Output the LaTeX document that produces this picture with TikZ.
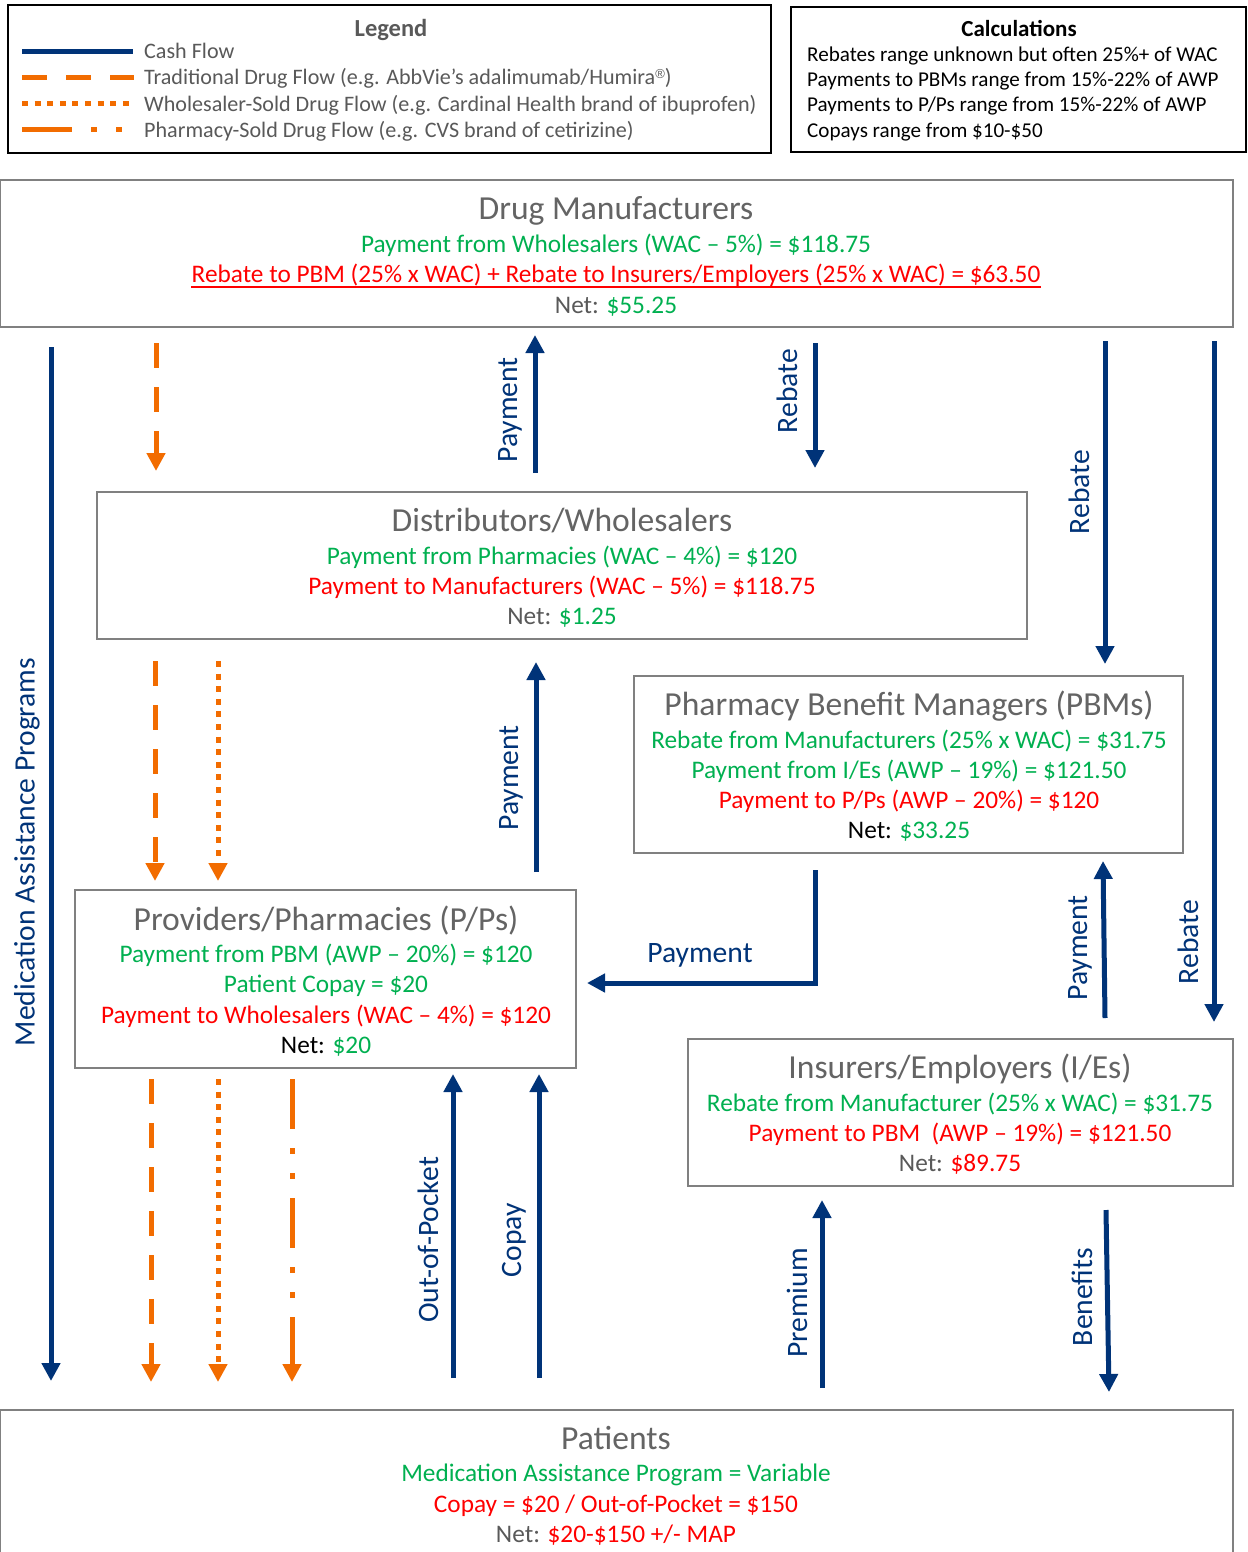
\documentclass[tikz,border=0pt]{standalone}
\usepackage{fontspec}
\setmainfont{Carlito}
\newfontfamily\regfont{Liberation Sans}
\usetikzlibrary{arrows.meta,calc}
\definecolor{cashblue}{RGB}{0,51,120}
\definecolor{drugorange}{RGB}{242,108,0}
\definecolor{gainGreen}{RGB}{0,176,80}
\definecolor{lossRed}{RGB}{255,0,0}
\definecolor{txtgray}{RGB}{89,89,89}
\definecolor{titlegray}{RGB}{100,100,100}
\definecolor{boxgray}{RGB}{128,128,128}
\begin{document}
\begin{tikzpicture}[x=1pt,y=-1pt,
  box/.style={draw=boxgray, line width=1.5pt, inner sep=0pt, outer sep=0pt},
  frame/.style={draw=black, line width=2pt, inner sep=0pt, outer sep=0pt},
  body/.style={font=\fontsize{25.3}{30}\selectfont, anchor=base, inner sep=0pt},
  ttl/.style={font=\fontsize{33.6}{40}\selectfont, text=titlegray, anchor=base, inner sep=0pt},
  lgd/.style={font=\fontsize{22.1}{26}\selectfont, text=txtgray, anchor=base west, inner sep=0pt},
  calc/.style={font=\fontsize{21.1}{26}\selectfont, text=black, anchor=base west, inner sep=0pt},
  lbl/.style={font=\fontsize{29.6}{34}\selectfont, text=cashblue, inner sep=0pt},
  tip/.style={-{Triangle[width=18pt,length=18pt]}},
  cash/.style={draw=cashblue, line width=5pt, tip},
  trad/.style={draw=drugorange, line width=5pt, dash pattern=on 25pt off 19pt, tip},
  whole/.style={draw=drugorange, line width=5pt, dash pattern=on 6pt off 6.6pt, tip},
  pharm/.style={draw=drugorange, line width=5pt, dash pattern=on 50pt off 19pt on 6pt off 19pt on 6pt off 19pt, tip},
  lcash/.style={draw=cashblue, line width=5pt},
  ltrad/.style={draw=drugorange, line width=5pt, dash pattern=on 25pt off 19pt},
  lwhole/.style={draw=drugorange, line width=5pt, dash pattern=on 6pt off 6.6pt},
  lpharm/.style={draw=drugorange, line width=5pt, dash pattern=on 50pt off 19pt on 6pt off 19pt on 6pt off 19pt}
]
\useasboundingbox (0,0) rectangle (1247,1552);
\fill[white] (0,0) rectangle (1247,1552);

% ---------- Legend ----------
\node[frame, minimum width=763pt, minimum height=148pt] (legend) at (389.5,79) {};
\node[font=\fontsize{24.5}{28}\selectfont\bfseries, text=txtgray, anchor=base, inner sep=0pt] (legendT) at (391,37) {Legend};
\coordinate (l1a) at (22,52);  \coordinate (l1b) at (133,52);
\coordinate (l2a) at (22,78);  \coordinate (l2b) at (134,78);
\coordinate (l3a) at (22,104); \coordinate (l3b) at (131,104);
\coordinate (l4a) at (22,130); \coordinate (l4b) at (124,130);
\draw[lcash] (l1a) -- (l1b);
\draw[ltrad] (l2a) -- (l2b);
\draw[lwhole] (l3a) -- (l3b);
\draw[lpharm] (l4a) -- (l4b);
\node[lgd] (lg1) at (144,59) {Cash Flow};
\node[lgd] (lg2) at (144,85) {Traditional Drug Flow (e.g. AbbVie’s adalimumab/Humira\raisebox{6pt}{\regfont\fontsize{13}{13}\selectfont ®})};
\node[lgd] (lg3) at (144,112) {Wholesaler-Sold Drug Flow (e.g. Cardinal Health brand of ibuprofen)};
\node[lgd] (lg4) at (144,138) {Pharmacy-Sold Drug Flow (e.g. CVS brand of cetirizine)};

% ---------- Calculations ----------
\node[frame, minimum width=455pt, minimum height=145pt] (calcbox) at (1018.5,79.5) {};
\node[font=\fontsize{23}{27}\selectfont\bfseries, text=black, anchor=base, inner sep=0pt] (calcT) at (1019,37) {Calculations};
\node[calc] (c1) at (807,62) {Rebates range unknown but often 25\%+ of WAC};
\node[calc] (c2) at (807,87) {Payments to PBMs range from 15\%-22\% of AWP};
\node[calc] (c3) at (807,112) {Payments to P/Ps range from 15\%-22\% of AWP};
\node[calc] (c4) at (807,138) {Copays range from \$10-\$50};

% ---------- Boxes ----------
\node[box, minimum width=1233pt, minimum height=147pt] (dm) at (616.5,253.5) {};
\node[box, minimum width=930pt, minimum height=147pt] (dw) at (562,565.5) {};
\node[box, minimum width=549pt, minimum height=177pt] (pbm) at (908.5,764.5) {};
\node[box, minimum width=501pt, minimum height=178pt] (pp) at (325.5,979) {};
\node[box, minimum width=545pt, minimum height=147pt] (ie) at (960.5,1112.5) {};
\node[box, minimum width=1233pt, minimum height=200pt] (pat) at (616.5,1510) {};

% Drug Manufacturers
\node[ttl] (dmT) at (616,219) {Drug Manufacturers};
\node[body, text=gainGreen] (dm1) at (616,252) {Payment from Wholesalers (WAC – 5\%) = \$118.75};
\node[body, text=lossRed] (dm2) at (616,282) {Rebate to PBM (25\% x WAC) + Rebate to Insurers/Employers (25\% x WAC) = \$63.50};
\draw[lossRed, line width=1.8pt] ($(dm2.base west)+(0,5)$) -- ($(dm2.base east)+(0,5)$);
\node[body] (dm3) at (616,313) {\textcolor{txtgray}{Net:} \textcolor{gainGreen}{\$55.25}};

% Distributors
\node[ttl] (dwT) at (562,531) {Distributors/Wholesalers};
\node[body, text=gainGreen] (dw1) at (562,564) {Payment from Pharmacies (WAC – 4\%) = \$120};
\node[body, text=lossRed] (dw2) at (562,594) {Payment to Manufacturers (WAC – 5\%) = \$118.75};
\node[body] (dw3) at (562,624) {\textcolor{txtgray}{Net:} \textcolor{gainGreen}{\$1.25}};

% PBMs
\node[ttl] (pbmT) at (909,715) {Pharmacy Benefit Managers (PBMs)};
\node[body, text=gainGreen] (pbm1) at (909,748) {Rebate from Manufacturers (25\% x WAC) = \$31.75};
\node[body, text=gainGreen] (pbm2) at (909,778) {Payment from I/Es (AWP – 19\%) = \$121.50};
\node[body, text=lossRed] (pbm3) at (909,808) {Payment to P/Ps (AWP – 20\%) = \$120};
\node[body] (pbm4) at (909,838) {\textcolor{black}{Net:} \textcolor{gainGreen}{\$33.25}};

% Providers/Pharmacies
\node[ttl] (ppT) at (326,930) {Providers/Pharmacies (P/Ps)};
\node[body, text=gainGreen] (pp1) at (326,962) {Payment from PBM (AWP – 20\%) = \$120};
\node[body, text=gainGreen] (pp2) at (326,992) {Patient Copay = \$20};
\node[body, text=lossRed] (pp3) at (326,1023) {Payment to Wholesalers (WAC – 4\%) = \$120};
\node[body] (pp4) at (326,1053) {\textcolor{black}{Net:} \textcolor{gainGreen}{\$20}};

% Insurers/Employers
\node[ttl] (ieT) at (960,1078) {Insurers/Employers (I/Es)};
\node[body, text=gainGreen] (ie1) at (960,1111) {Rebate from Manufacturer (25\% x WAC) = \$31.75};
\node[body, text=lossRed] (ie2) at (960,1141) {Payment to PBM\ \ (AWP – 19\%) = \$121.50};
\node[body] (ie3) at (960,1171) {\textcolor{txtgray}{Net:} \textcolor{lossRed}{\$89.75}};

% Patients
\node[ttl] (patT) at (616,1449) {Patients};
\node[body, text=gainGreen] (pat1) at (616,1481) {Medication Assistance Program = Variable};
\node[body, text=lossRed] (pat2) at (616,1512) {Copay = \$20 / Out-of-Pocket = \$150};
\node[body] (pat3) at (616,1542) {\textcolor{txtgray}{Net:} \textcolor{lossRed}{\$20-\$150 +/- MAP}};

% ---------- Arrow end points ----------
\coordinate (mapS) at (51,347);   \coordinate (mapE) at (51,1381);
\coordinate (t1S) at (156,343);   \coordinate (t1E) at (156,471);
\coordinate (p1S) at (535,473);   \coordinate (p1E) at (535,335);
\coordinate (r1S) at (815,343);   \coordinate (r1E) at (815,468);
\coordinate (r2S) at (1105,341);  \coordinate (r2E) at (1105,664);
\coordinate (r3S) at (1214,341);  \coordinate (r3E) at (1214,1022);
\coordinate (t2S) at (155,661);   \coordinate (t2E) at (155,881);
\coordinate (w1S) at (218,661);   \coordinate (w1E) at (218,881);
\coordinate (p2S) at (536,872);   \coordinate (p2E) at (536,662);
\coordinate (p3S) at (815,870);   \coordinate (p3M) at (815,983);  \coordinate (p3E) at (587,983);
\coordinate (p4S) at (1105,1018); \coordinate (p4E) at (1103,861);
\coordinate (t3S) at (151,1079);  \coordinate (t3E) at (151,1382);
\coordinate (w2S) at (218,1079);  \coordinate (w2E) at (218,1382);
\coordinate (h1S) at (292,1079);  \coordinate (h1E) at (292,1382);
\coordinate (oS) at (453,1378);   \coordinate (oE) at (453,1074);
\coordinate (cS) at (539,1378);   \coordinate (cE) at (539,1074);
\coordinate (prS) at (822,1388);  \coordinate (prE) at (822,1200);
\coordinate (bS) at (1106,1210);  \coordinate (bE) at (1109,1392);

% ---------- Arrows ----------
\draw[cash] (mapS) -- (mapE);
\draw[trad] (t1S) -- (t1E);
\draw[cash] (p1S) -- (p1E);
\draw[cash] (r1S) -- (r1E);
\draw[cash] (r2S) -- (r2E);
\draw[cash] (r3S) -- (r3E);
\draw[trad] (t2S) -- (t2E);
\draw[whole] (w1S) -- (w1E);
\draw[cash] (p2S) -- (p2E);
\draw[cash, line join=miter] (p3S) -- (p3M) -- (p3E);
\draw[cash] (p4S) -- (p4E);
\draw[trad] (t3S) -- (t3E);
\draw[whole] (w2S) -- (w2E);
\draw[pharm] (h1S) -- (h1E);
\draw[cash] (oS) -- (oE);
\draw[cash] (cS) -- (cE);
\draw[cash] (prS) -- (prE);
\draw[cash] (bS) -- (bE);

% ---------- Arrow labels ----------
\node[lbl, rotate=90] (mapL) at (27,852) {Medication Assistance Programs};
\node[lbl, rotate=90] (p1L) at (510,410) {Payment};
\node[lbl, rotate=90] (r1L) at (787,391) {Rebate};
\node[lbl, rotate=90] (r2L) at (1079,492) {Rebate};
\node[lbl, rotate=90] (p2L) at (511,778) {Payment};
\node[lbl] (p3L) at (700,955) {Payment};
\node[lbl, rotate=90] (p4L) at (1080,948) {Payment};
\node[lbl, rotate=90] (r3L) at (1188,942) {Rebate};
\node[lbl, rotate=90] (oL) at (428,1240) {Out-of-Pocket};
\node[lbl, rotate=90] (cL) at (514,1240) {Copay};
\node[lbl, rotate=90] (prL) at (797,1303) {Premium};
\node[lbl, rotate=90] (bL) at (1082,1297) {Benefits};
\end{tikzpicture}
\end{document}
